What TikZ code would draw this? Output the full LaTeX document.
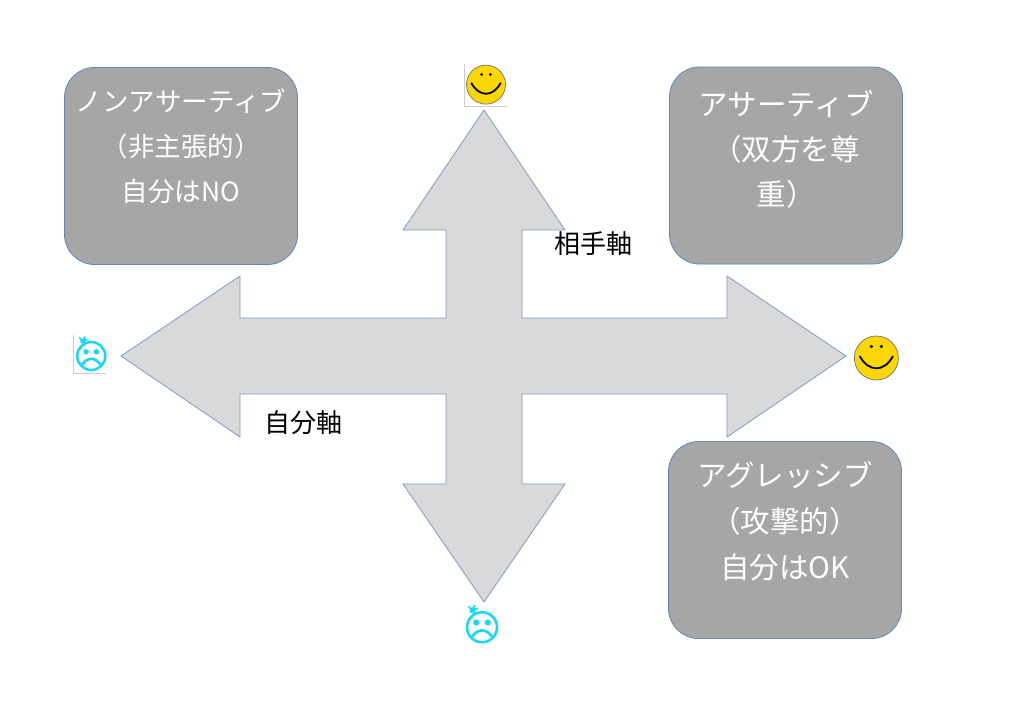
\documentclass[tikz,border=0pt]{standalone}
\usepackage{fontspec}
\setmainfont{Noto Sans CJK JP}
\usepackage{tikz}
\usetikzlibrary{shapes, arrows, positioning, calc}
\definecolor{axisgray}{RGB}{217,217,217}
\definecolor{axisedge}{RGB}{127,157,190}
\definecolor{boxgray}{RGB}{166,166,166}
\definecolor{boxedge}{RGB}{100,135,175}
\definecolor{smileyellow}{RGB}{250,215,0}
\definecolor{sadcyan}{RGB}{20,215,250}
\definecolor{framegray}{RGB}{205,205,205}

\newcommand{\happyface}[2]{
	\begin{scope}[shift={(#1)}, scale=#2]
		\fill (-4.5,-10.5) circle (1.6);
		\fill (4.5,-10.5) circle (1.6);
		\draw[line width=1.8pt, line cap=round] (-15,-1.5) .. controls (-7,13) and (7,13) .. (15,-1.5);
	\end{scope}
}
\newcommand{\sadface}[2]{
	\begin{scope}[shift={(#1)}, scale=#2, sadcyan]
		\fill (-5.5,-4.5) circle (2.9);
		\fill (5.5,-4.5) circle (2.9);
		\draw[line width=2.6pt, line cap=round] (-9.5,9) .. controls (-4,1) and (4,1) .. (9.5,9);
		\fill (-9,-16) circle (2.8);
		\draw[line width=1.6pt] (-9,-16) -- (-13,-20) (-9,-16) -- (-7,-21) (-9,-16) -- (-4,-18);
	\end{scope}
}

\begin{document}
\begin{tikzpicture}[x=1pt, y=-1pt,
		quad/.style={draw=boxedge, fill=boxgray, line width=0.8pt, rounded corners=30pt, minimum width=233, minimum height=197},
		quadtext/.style={text=white, align=center},
		axlabel/.style={font=\fontsize{26}{30}\selectfont},
		happy/.style={circle, draw=black!55, fill=smileyellow, line width=0.7pt, inner sep=0pt},
		sad/.style={circle, draw=sadcyan, line width=2.5pt, inner sep=0pt}]
	\useasboundingbox[fill=white] (0,0) rectangle (1024,725);
	\draw[fill=axisgray, draw=axisedge, line width=0.8pt] (484,110) -- (565,230) -- (522,230) -- (522,318) -- (727,318) -- (727,276) -- (846,356) -- (727,437) -- (727,394) -- (522,394) -- (522,484) -- (565,484) -- (484,602) -- (403,484) -- (446,484) -- (446,394) -- (240,394) -- (240,437) -- (121,356) -- (240,276) -- (240,318) -- (446,318) -- (446,230) -- (403,230) -- cycle;
	\coordinate (top) at (486,110);
	\coordinate (bottom) at (482,602);
	\coordinate (left) at (121,356);
	\coordinate (right) at (846,358);

	\node[happy, minimum size=39, above=5.5pt of top] (up) {};
	\happyface{up}{0.97}
	\draw[framegray, line width=0.8pt] ($(up.west)+(-1.5,-21)$) |- ($(up.south)+(21,1.5)$);
	\node[happy, minimum size=44, right=8pt of right] (rt) {};
	\happyface{rt}{1.1}
	\node[sad, minimum size=28, left=14.5pt of left] (lf) {};
	\sadface{lf}{0.93}
	\draw[framegray, line width=0.6pt] ($(lf.west)+(-3,-21)$) |- ($(lf.south)+(15,2)$);
	\node[sad, minimum size=30, below=9pt of bottom] (dn) {};
	\sadface{dn}{1.05}

	\node[quad] (nw) at (181,166) {};
	\node[quad] (ne) at (786,165.5) {};
	\node[quad] (se) at (785,540) {};
	\node[quadtext, font=\fontsize{26.5}{45}\selectfont] (nwtext) at ($(nw)+(0,-20)$) {ノンアサーティブ\\（非主張的）\\自分はNO};
	\node[quadtext, font=\fontsize{29.5}{45}\selectfont] (netext) at ($(ne)+(0,-16)$) {アサーティブ\\（双方を尊\\重）};
	\node[quadtext, font=\fontsize{29.5}{46}\selectfont] (setext) at ($(se)+(0,-19)$) {アグレッシブ\\（攻撃的）\\自分はOK};

	\node[axlabel] (otherlab) at (593,244) {相手軸};
	\node[axlabel] (selflab) at (303,423) {自分軸};
\end{tikzpicture}
\end{document}
